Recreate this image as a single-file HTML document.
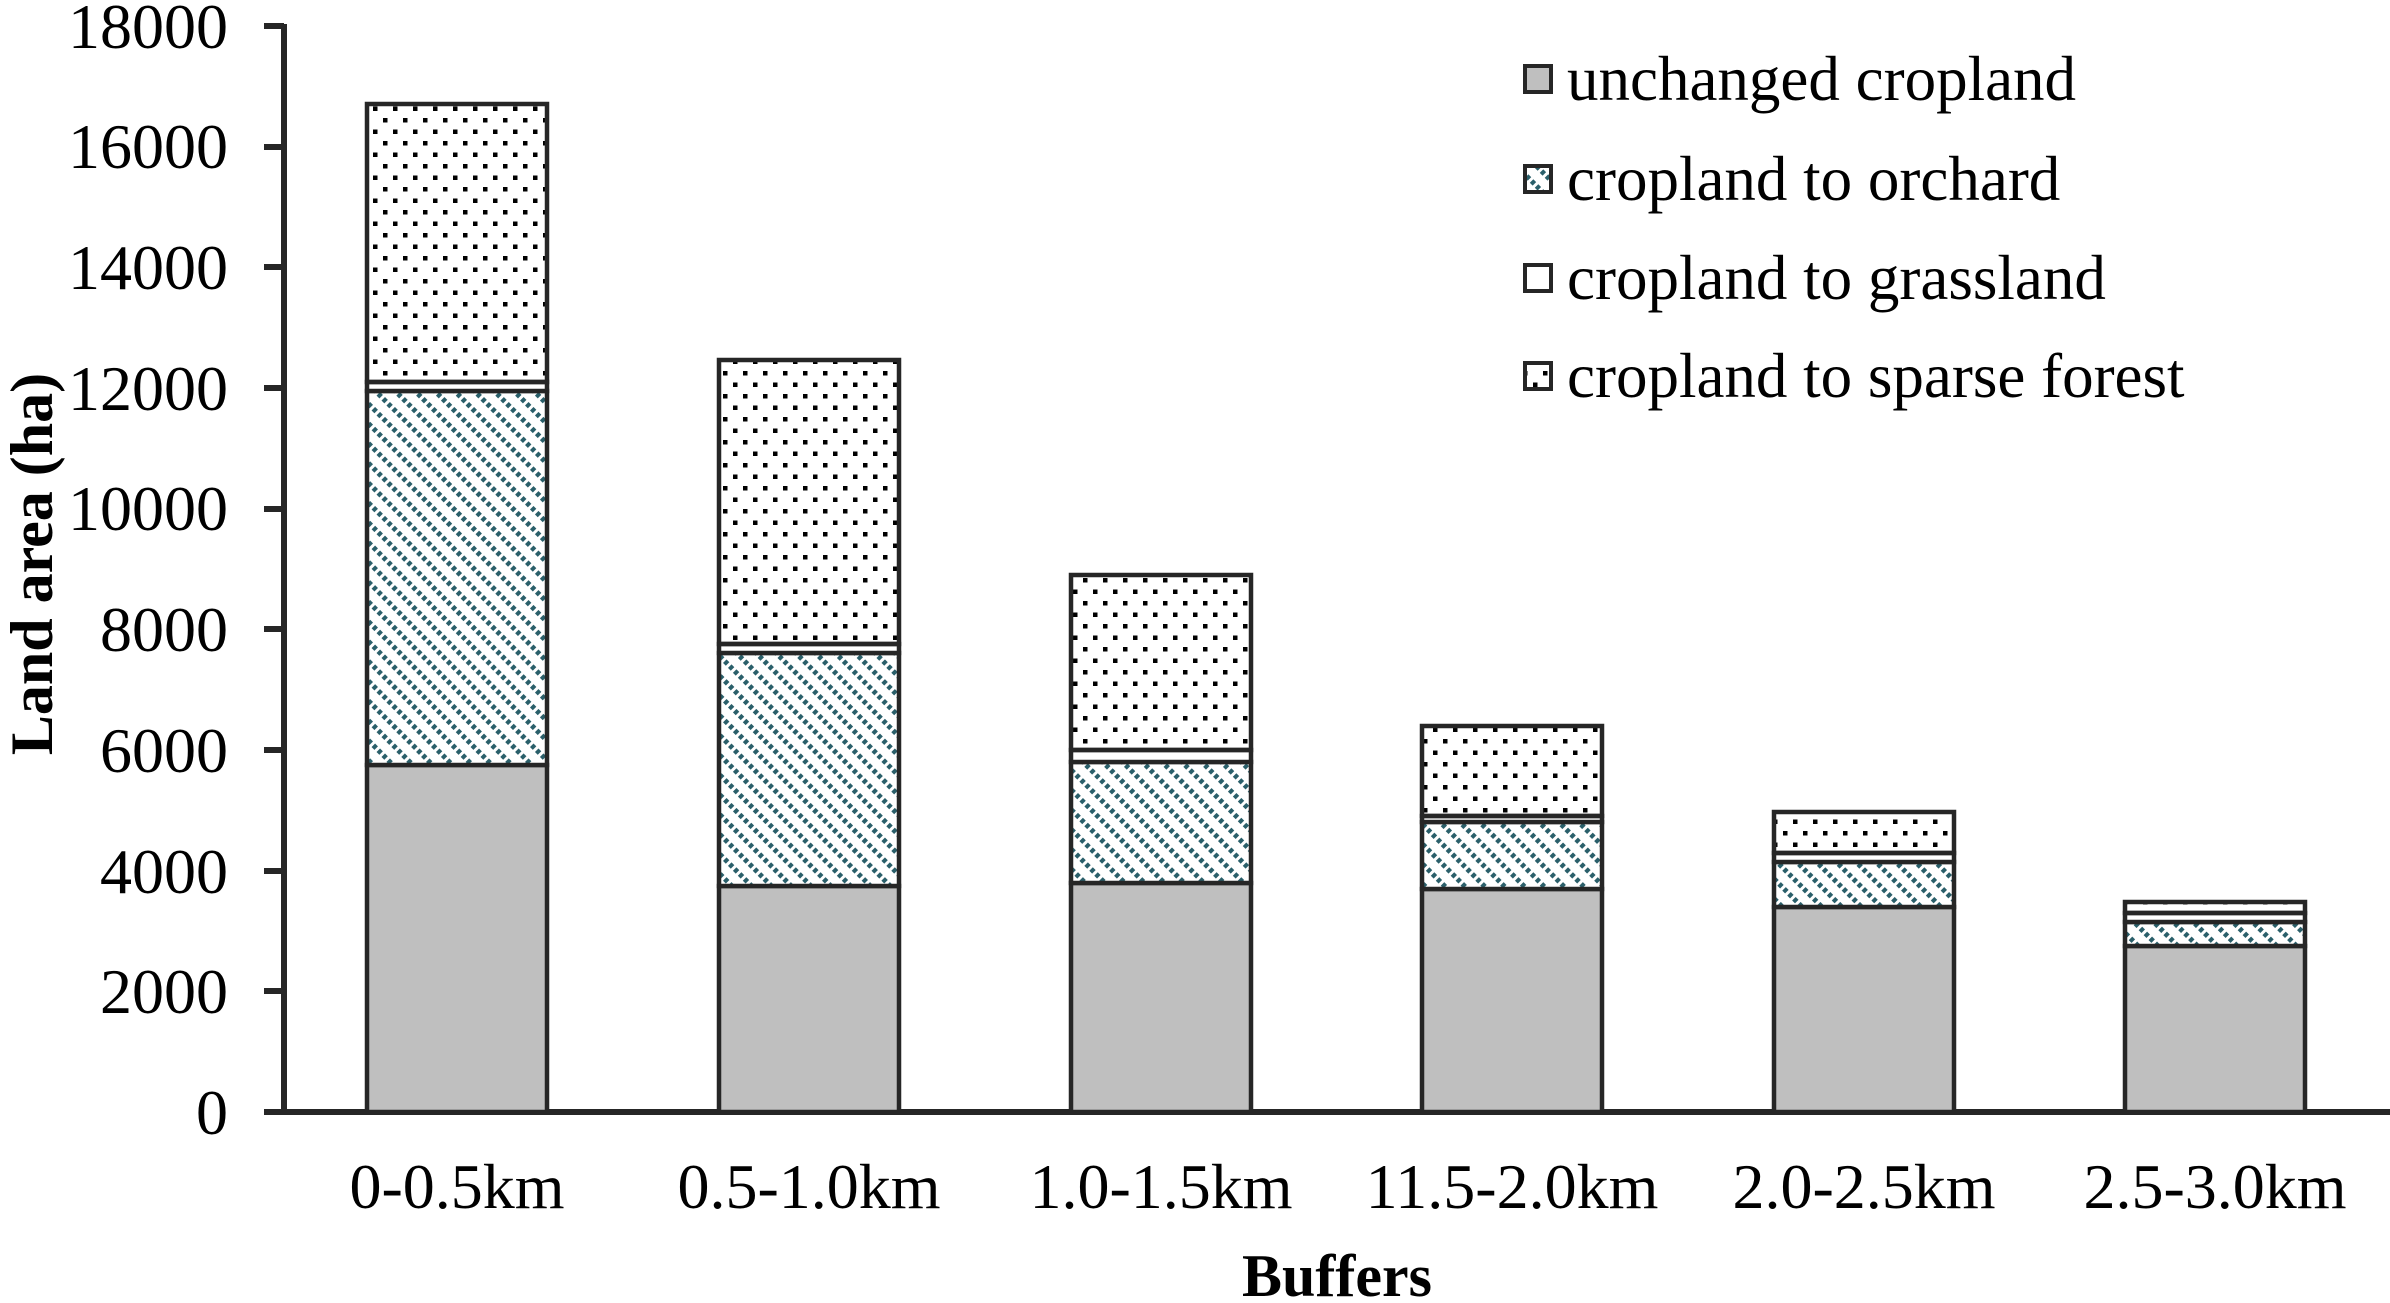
<!DOCTYPE html>
<html><head><meta charset="utf-8"><style>html,body{margin:0;padding:0;background:#fff}</style></head>
<body>
<svg width="2390" height="1298" viewBox="0 0 2390 1298" xmlns="http://www.w3.org/2000/svg" font-family="Liberation Serif, serif">
<defs>
<pattern id="dots" width="20" height="23" patternUnits="userSpaceOnUse">
<rect x="3" y="3" width="4.5" height="4.5" fill="#000"/>
<rect x="13" y="14.5" width="4.5" height="4.5" fill="#000"/>
</pattern>
<pattern id="hatch" width="14" height="14" patternUnits="userSpaceOnUse" patternTransform="rotate(-45)">
<rect width="14" height="14" fill="#fff"/>
<line x1="3" y1="0" x2="3" y2="14" stroke="#2a5f6a" stroke-width="5" stroke-dasharray="4 3"/>
</pattern>
</defs>
<g font-size="64" text-anchor="end" fill="#000">
<text x="228" y="1134">0</text>
<text x="228" y="1013">2000</text>
<text x="228" y="893">4000</text>
<text x="228" y="772">6000</text>
<text x="228" y="651">8000</text>
<text x="228" y="530">10000</text>
<text x="228" y="410">12000</text>
<text x="228" y="289">14000</text>
<text x="228" y="168">16000</text>
<text x="228" y="48">18000</text>
</g>
<g stroke="#262626" stroke-width="6">
<line x1="284" y1="24" x2="284" y2="1114"/>
<line x1="264" y1="1112" x2="2390" y2="1112"/>
<line x1="264" y1="26" x2="284" y2="26"/>
<line x1="264" y1="147" x2="284" y2="147"/>
<line x1="264" y1="267" x2="284" y2="267"/>
<line x1="264" y1="388" x2="284" y2="388"/>
<line x1="264" y1="509" x2="284" y2="509"/>
<line x1="264" y1="629" x2="284" y2="629"/>
<line x1="264" y1="750" x2="284" y2="750"/>
<line x1="264" y1="871" x2="284" y2="871"/>
<line x1="264" y1="991" x2="284" y2="991"/>
</g>
<g stroke="#262626" stroke-width="4.5">
<rect x="367" y="765" width="180" height="347" fill="#bfbfbf"/>
<rect x="367" y="391" width="180" height="374" fill="url(#hatch)"/>
<rect x="367" y="382" width="180" height="9" fill="#fff"/>
<rect x="367" y="104" width="180" height="278" fill="url(#dots)"/>
<rect x="719" y="886" width="180" height="226" fill="#bfbfbf"/>
<rect x="719" y="653" width="180" height="233" fill="url(#hatch)"/>
<rect x="719" y="644" width="180" height="9" fill="#fff"/>
<rect x="719" y="360" width="180" height="284" fill="url(#dots)"/>
<rect x="1071" y="883" width="180" height="229" fill="#bfbfbf"/>
<rect x="1071" y="762" width="180" height="121" fill="url(#hatch)"/>
<rect x="1071" y="750" width="180" height="12" fill="#fff"/>
<rect x="1071" y="575" width="180" height="175" fill="url(#dots)"/>
<rect x="1422" y="889" width="180" height="223" fill="#bfbfbf"/>
<rect x="1422" y="822" width="180" height="67" fill="url(#hatch)"/>
<rect x="1422" y="816" width="180" height="6" fill="#fff"/>
<rect x="1422" y="726" width="180" height="90" fill="url(#dots)"/>
<rect x="1774" y="907" width="180" height="205" fill="#bfbfbf"/>
<rect x="1774" y="862" width="180" height="45" fill="url(#hatch)"/>
<rect x="1774" y="853" width="180" height="9" fill="#fff"/>
<rect x="1774" y="812" width="180" height="41" fill="url(#dots)"/>
<rect x="2125" y="946" width="180" height="166" fill="#bfbfbf"/>
<rect x="2125" y="922" width="180" height="24" fill="url(#hatch)"/>
<rect x="2125" y="913" width="180" height="9" fill="#fff"/>
<rect x="2125" y="902" width="180" height="11" fill="url(#dots)"/>
</g>
<g font-size="64" text-anchor="middle">
<text x="457" y="1208">0-0.5km</text>
<text x="809" y="1208">0.5-1.0km</text>
<text x="1161" y="1208">1.0-1.5km</text>
<text x="1512" y="1208">11.5-2.0km</text>
<text x="1864" y="1208">2.0-2.5km</text>
<text x="2215" y="1208">2.5-3.0km</text>
</g>
<text x="1337" y="1296" font-size="60" font-weight="bold" text-anchor="middle">Buffers</text>
<text transform="translate(52,564) rotate(-90)" font-size="60" font-weight="bold" text-anchor="middle">Land area (ha)</text>
<g stroke="#262626" stroke-width="4">
<rect x="1525" y="66" width="26" height="26" fill="#bfbfbf"/>
<rect x="1525" y="166" width="26" height="26" fill="url(#hatch)"/>
<rect x="1525" y="265" width="26" height="26" fill="#fff"/>
<rect x="1525" y="363" width="26" height="26" fill="url(#dots)"/>
</g>
<g font-size="63">
<text x="1567" y="100">unchanged cropland</text>
<text x="1567" y="200">cropland to orchard</text>
<text x="1567" y="299">cropland to grassland</text>
<text x="1567" y="397">cropland to sparse forest</text>
</g>
</svg>
</body></html>
